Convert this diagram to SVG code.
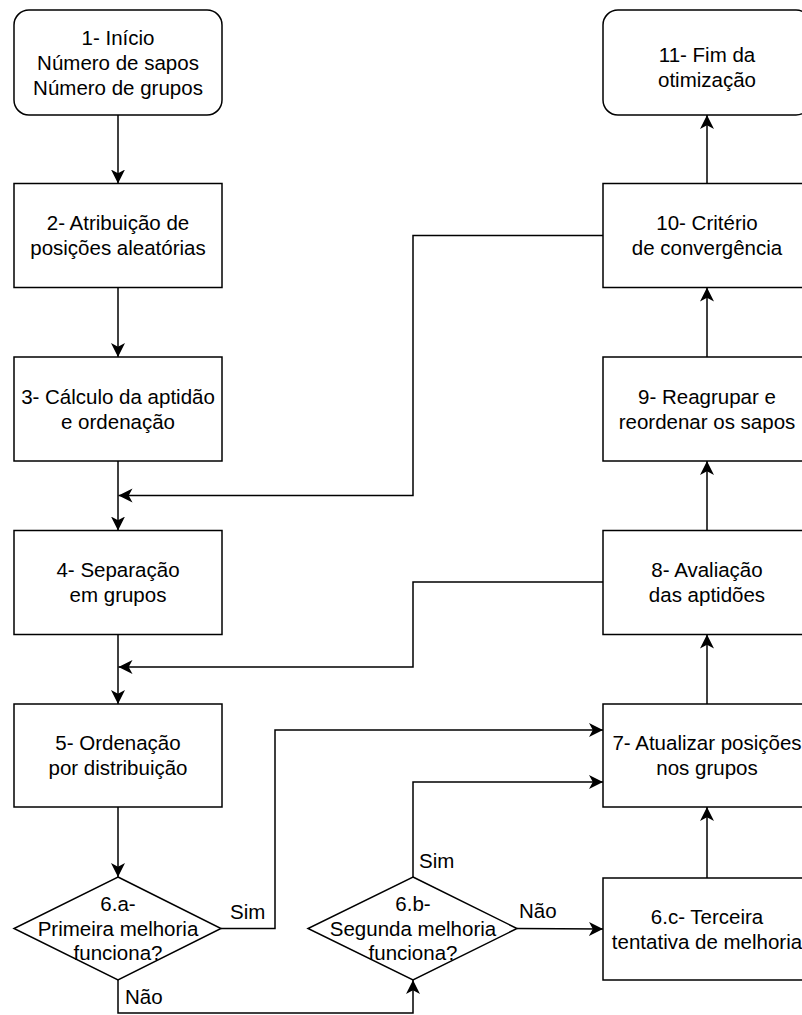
<svg xmlns="http://www.w3.org/2000/svg" width="802" height="1015" viewBox="0 0 802 1015">
<style>
.n{fill:#fff;stroke:#000;stroke-width:1.5}
.t{font-family:"Liberation Sans",Arial,Helvetica,sans-serif;font-size:20.5px;fill:#000;text-anchor:middle}
.l{font-family:"Liberation Sans",Arial,Helvetica,sans-serif;font-size:20.5px;fill:#000}
.e{fill:none;stroke:#000;stroke-width:1.5}
</style>
<defs>
<marker id="arr" viewBox="0 0 15 15" markerWidth="15" markerHeight="15" refX="14" refY="7.5" orient="auto" markerUnits="userSpaceOnUse">
<path d="M0,0.5 L14,7.5 L0,14.5 L3.8,7.5 Z" fill="#000"/>
</marker>
</defs>
<rect width="802" height="1015" fill="#fff"/>
<g id="connectors">
<path class="e" d="M118,115 L118,183.5" marker-end="url(#arr)"/>
<path class="e" d="M118,287.5 L118,357" marker-end="url(#arr)"/>
<path class="e" d="M118,461 L118,530.5" marker-end="url(#arr)"/>
<path class="e" d="M603,235.5 L413,235.5 L413,495.5 L118.5,495.5" marker-end="url(#arr)"/>
<path class="e" d="M118,634.5 L118,704" marker-end="url(#arr)"/>
<path class="e" d="M603,582 L413,582 L413,667 L118.5,667" marker-end="url(#arr)"/>
<path class="e" d="M118,807 L118,877" marker-end="url(#arr)"/>
<path class="e" d="M221,928.5 L275,928.5 L275,730 L603,730" marker-end="url(#arr)"/>
<path class="e" d="M118,980 L118,1013 L413,1013 L413,980" marker-end="url(#arr)"/>
<path class="e" d="M413,877 L413,782 L603,782" marker-end="url(#arr)"/>
<path class="e" d="M517,928.5 L603,929" marker-end="url(#arr)"/>
<path class="e" d="M707,878 L707,807" marker-end="url(#arr)"/>
<path class="e" d="M707,704 L707,634.5" marker-end="url(#arr)"/>
<path class="e" d="M707,530.5 L707,461" marker-end="url(#arr)"/>
<path class="e" d="M707,357 L707,287.5" marker-end="url(#arr)"/>
<path class="e" d="M707,183.5 L707,115" marker-end="url(#arr)"/>
<text class="l" x="230" y="919">Sim</text>
<text class="l" x="125" y="1004">Não</text>
<text class="l" x="419" y="868">Sim</text>
<text class="l" x="519" y="918">Não</text>
</g>
<g id="n1">
<rect class="n" x="14" y="10" width="208" height="105" rx="15" ry="15"/>
<text class="t" x="118" y="45.3">1- Início</text>
<text class="t" x="118" y="69.9">Número de sapos</text>
<text class="t" x="118" y="94.5">Número de grupos</text>
</g>
<g id="n2">
<rect class="n" x="14" y="183.5" width="208" height="104"/>
<text class="t" x="118" y="230.4">2- Atribuição de</text>
<text class="t" x="118" y="255">posições aleatórias</text>
</g>
<g id="n3">
<rect class="n" x="14" y="357" width="208" height="104"/>
<text class="t" x="118" y="403.9">3- Cálculo da aptidão</text>
<text class="t" x="118" y="428.5">e ordenação</text>
</g>
<g id="n4">
<rect class="n" x="14" y="530.5" width="208" height="104"/>
<text class="t" x="118" y="577.4">4- Separação</text>
<text class="t" x="118" y="602">em grupos</text>
</g>
<g id="n5">
<rect class="n" x="14" y="704" width="208" height="103"/>
<text class="t" x="118" y="750.4">5- Ordenação</text>
<text class="t" x="118" y="775">por distribuição</text>
</g>
<g id="n6a">
<polygon class="n" points="118,877 221,928.5 118,980 14,928.5"/>
<text class="t" x="118" y="911.1">6.a-</text>
<text class="t" x="118" y="935.7">Primeira melhoria</text>
<text class="t" x="118" y="960.3">funciona?</text>
</g>
<g id="n6b">
<polygon class="n" points="413,877 517,928.5 413,980 308,928.5"/>
<text class="t" x="413" y="911.1">6.b-</text>
<text class="t" x="413" y="935.7">Segunda melhoria</text>
<text class="t" x="413" y="960.3">funciona?</text>
</g>
<g id="n6c">
<rect class="n" x="603" y="878" width="208" height="102"/>
<text class="t" x="707" y="923.9">6.c- Terceira</text>
<text class="t" x="707" y="948.5">tentativa de melhoria</text>
</g>
<g id="n7">
<rect class="n" x="603" y="704" width="208" height="103"/>
<text class="t" x="707" y="750.4">7- Atualizar posições</text>
<text class="t" x="707" y="775">nos grupos</text>
</g>
<g id="n8">
<rect class="n" x="603" y="530.5" width="208" height="104"/>
<text class="t" x="707" y="577.4">8- Avaliação</text>
<text class="t" x="707" y="602">das aptidões</text>
</g>
<g id="n9">
<rect class="n" x="603" y="357" width="208" height="104"/>
<text class="t" x="707" y="403.9">9- Reagrupar e</text>
<text class="t" x="707" y="428.5">reordenar os sapos</text>
</g>
<g id="n10">
<rect class="n" x="603" y="183.5" width="208" height="104"/>
<text class="t" x="707" y="230.4">10- Critério</text>
<text class="t" x="707" y="255">de convergência</text>
</g>
<g id="n11">
<rect class="n" x="603" y="10" width="208" height="105" rx="15" ry="15"/>
<text class="t" x="707" y="62">11- Fim da</text>
<text class="t" x="707" y="86.5">otimização</text>
</g>
</svg>
